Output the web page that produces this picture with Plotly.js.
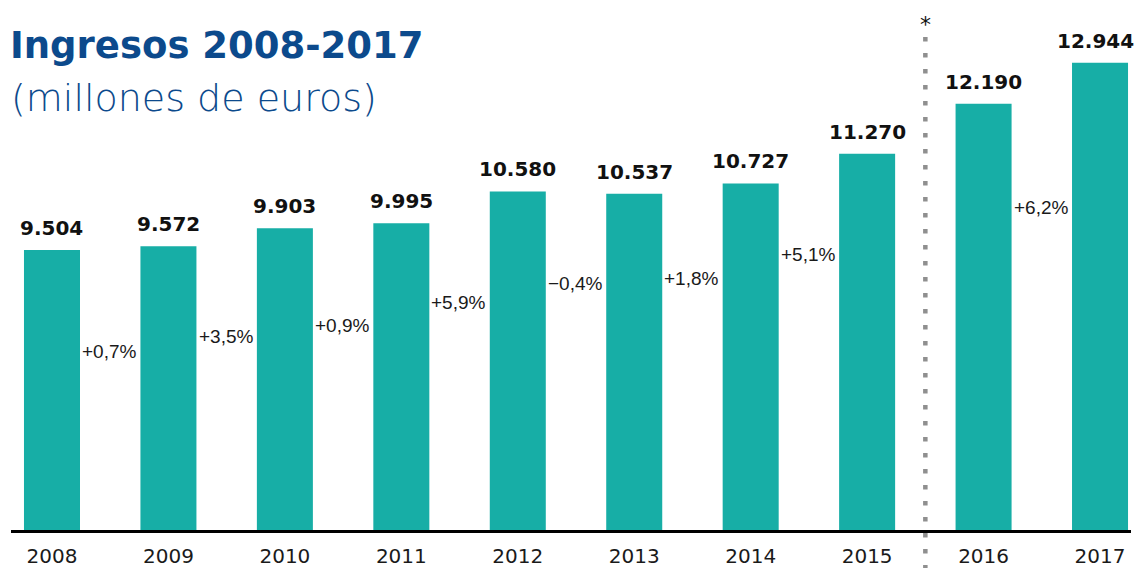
<!DOCTYPE html>
<html>
<head>
<meta charset="utf-8">
<script src="https://cdn.plot.ly/plotly-3.0.1.min.js"></script>
<style>html,body{margin:0;padding:0;background:#fff;}#chart{width:1136px;height:568px;}</style>
</head>
<body>
<div id="chart"></div>
<script>
// ---- data ----
const years = ["2008","2009","2010","2011","2012","2013","2014","2015","2016","2017"];
const ingresos = [9504, 9572, 9903, 9995, 10580, 10537, 10727, 11270, 12190, 12944];
const valueLabels = ["9.504","9.572","9.903","9.995","10.580","10.537","10.727","11.270","12.190","12.944"];
const pctLabels = ["+0,7%","+3,5%","+0,9%","+5,9%","\u22120,4%","+1,8%","+5,1%","","+6,2%"];

// ---- layout helpers (vertical positions of change labels, in axis units) ----
const pctLabelPos = [7649, 7907, 8109, 8549, 8898, 8972, 9431, null, 10276];

const barColor = "#17aea6";
const titleBlue = "#0c4a8c";

const annotations = [];
years.forEach((y, i) => {
  annotations.push({
    x: i, y: ingresos[i], xref: "x", yref: "y",
    text: "<b>" + valueLabels[i] + "</b>", showarrow: false,
    xanchor: "center", yanchor: "bottom", yshift: 8,
    xshift: i === years.length - 1 ? -5 : 0,
    font: {family: "DejaVu Sans", size: 20, color: "#111111"}
  });
});
pctLabels.forEach((t, i) => {
  if (!t) return;
  annotations.push({
    x: i + 0.25, y: pctLabelPos[i], xref: "x", yref: "y",
    text: t, showarrow: false, xanchor: "left", yanchor: "middle", xshift: -1,
    font: {family: "Liberation Sans, sans-serif", size: 19, color: "#1a1a1a"}
  });
});
annotations.push({
  x: 9 / 1136, y: (530 - 98) / 530, xref: "paper", yref: "paper",
  text: "(millones de euros)", showarrow: false, xanchor: "left", yanchor: "middle",
  font: {family: "DejaVu Sans", size: 38, color: titleBlue, weight: 200}
});
annotations.push({
  x: 7.5, y: (530 - 25) / 530, xref: "x", yref: "paper",
  text: "*", showarrow: false, xanchor: "center", yanchor: "middle",
  font: {family: "DejaVu Sans", size: 22, color: "#111111"}
});

const data = [{
  type: "bar",
  x: years,
  y: ingresos,
  width: 0.481,
  marker: {color: barColor},
  hoverinfo: "skip"
}];

const layout = {
  width: 1136, height: 568,
  margin: {l: 0, r: 0, t: 0, b: 38, pad: 0},
  paper_bgcolor: "#ffffff", plot_bgcolor: "#ffffff",
  showlegend: false,
  title: {
    text: "<b>Ingresos 2008-2017</b>",
    x: 10 / 1136, xanchor: "left", xref: "container",
    y: 1 - 45 / 568, yanchor: "middle", yref: "container",
    font: {family: "DejaVu Sans", size: 37, color: titleBlue}
  },
  xaxis: {
    type: "category",
    domain: [11 / 1136, 1131 / 1136],
    range: [-0.352, 9.266],
    showline: true, linecolor: "#000000", linewidth: 2.5,
    showgrid: false, zeroline: false, ticks: "",
    ticklabelstandoff: 6,
    tickfont: {family: "DejaVu Sans", size: 20, color: "#1a1a1a"},
    fixedrange: true
  },
  yaxis: {
    range: [4362, 14096],
    visible: false, showgrid: false, zeroline: false, fixedrange: true
  },
  shapes: [{
    type: "line", xref: "x", yref: "paper",
    x0: 7.5, x1: 7.5, y0: 0.93, y1: -0.08,
    line: {color: "#8f8f8f", width: 4.5, dash: "4.5px,11.5px"}
  }],
  annotations: annotations
};

Plotly.newPlot("chart", data, layout, {staticPlot: true, displayModeBar: false});
</script>
</body>
</html>
